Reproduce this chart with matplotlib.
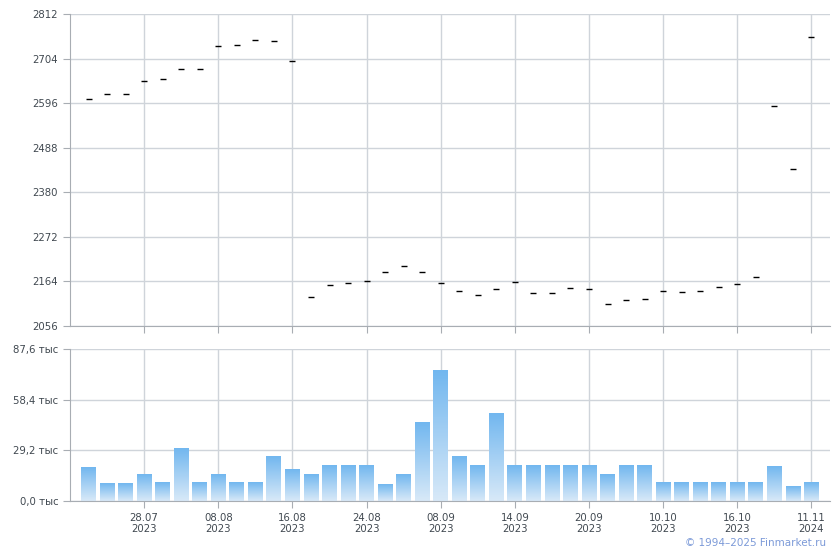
import matplotlib
matplotlib.use("Agg")
import matplotlib.pyplot as plt
import numpy as np
from matplotlib.colors import LinearSegmentedColormap

prices = [2605, 2617, 2617, 2649, 2654, 2678, 2678, 2734, 2736, 2748,
          2746, 2697, 2126, 2155, 2159, 2164, 2186, 2201, 2186, 2159,
          2142, 2130, 2145, 2162, 2135, 2135, 2147, 2145, 2109, 2118,
          2121, 2140, 2138, 2140, 2150, 2157, 2174, 2588, 2436, 2756]
volumes = [19.2, 10.0, 10.0, 15.2, 10.5, 30.1, 10.5, 15.2, 10.5, 10.5,
           25.5, 18.0, 15.2, 20.3, 20.3, 20.3, 9.4, 15.2, 45.1, 75.1,
           25.5, 20.3, 50.3, 20.3, 20.3, 20.3, 20.3, 20.3, 15.2, 20.3,
           20.3, 10.5, 10.5, 10.5, 10.5, 10.5, 10.5, 19.8, 8.2, 10.5]
tick_idx = [3, 7, 11, 15, 19, 23, 27, 31, 35, 39]
tick_labels = ["28.07\n2023", "08.08\n2023", "16.08\n2023", "24.08\n2023",
               "08.09\n2023", "14.09\n2023", "20.09\n2023", "10.10\n2023",
               "16.10\n2023", "11.11\n2024"]
price_ticks = [2056, 2164, 2272, 2380, 2488, 2596, 2704, 2812]
vol_ticks = [0.0, 29.2, 58.4, 87.6]
vol_tick_labels = ["0,0 тыс", "29,2 тыс", "58,4 тыс", "87,6 тыс"]

W, H = 840, 550
fig = plt.figure(figsize=(W/100, H/100), dpi=100)
grid_c = "#cfd4da"
spine_c = "#a8adb3"
txt_c = "#404850"
fs = 7.3

ax1 = fig.add_axes([70/W, 1-326/H, 760/W, 312/H])
ax2 = fig.add_axes([70/W, 1-501/H, 760/W, 152/H])

x = np.arange(len(prices))
for ax in (ax1, ax2):
    ax.set_xlim(-1, 40)
    ax.set_xticks(tick_idx)
    ax.grid(True, color=grid_c, linewidth=1)
    ax.set_axisbelow(True)
    for s in ("top", "right"):
        ax.spines[s].set_visible(False)
    for s in ("left", "bottom"):
        ax.spines[s].set_color(spine_c)
    ax.tick_params(colors=spine_c, labelcolor=txt_c, labelsize=fs, length=5)

ax1.plot(x, prices, linestyle="none", marker="_", markersize=4.5, mew=1.0, color="black")
ax1.set_ylim(2056, 2812)
ax1.set_yticks(price_ticks)
ax1.set_xticklabels([])

cmap = LinearSegmentedColormap.from_list("g", ["#d8e9f8", "#72b7ef"])
grad = np.linspace(0, 1, 100).reshape(-1, 1)
bw = 0.8
ax2.set_ylim(0, 87.6)
for xi, v in zip(x, volumes):
    ax2.imshow(grad, extent=[xi - bw/2, xi + bw/2, 0, v], origin="lower",
               aspect="auto", cmap=cmap, zorder=2)
ax2.set_xlim(-1, 40)
ax2.set_ylim(0, 87.6)
ax2.set_yticks(vol_ticks)
ax2.set_yticklabels(vol_tick_labels)
ax2.set_xticklabels(tick_labels, linespacing=1.1)

fig.text(826/W, 1-543/H, "© 1994–2025 Finmarket.ru", ha="right", va="center",
         color="#7c9ad8", fontsize=7.5)

fig.savefig("out.png", dpi=100)
